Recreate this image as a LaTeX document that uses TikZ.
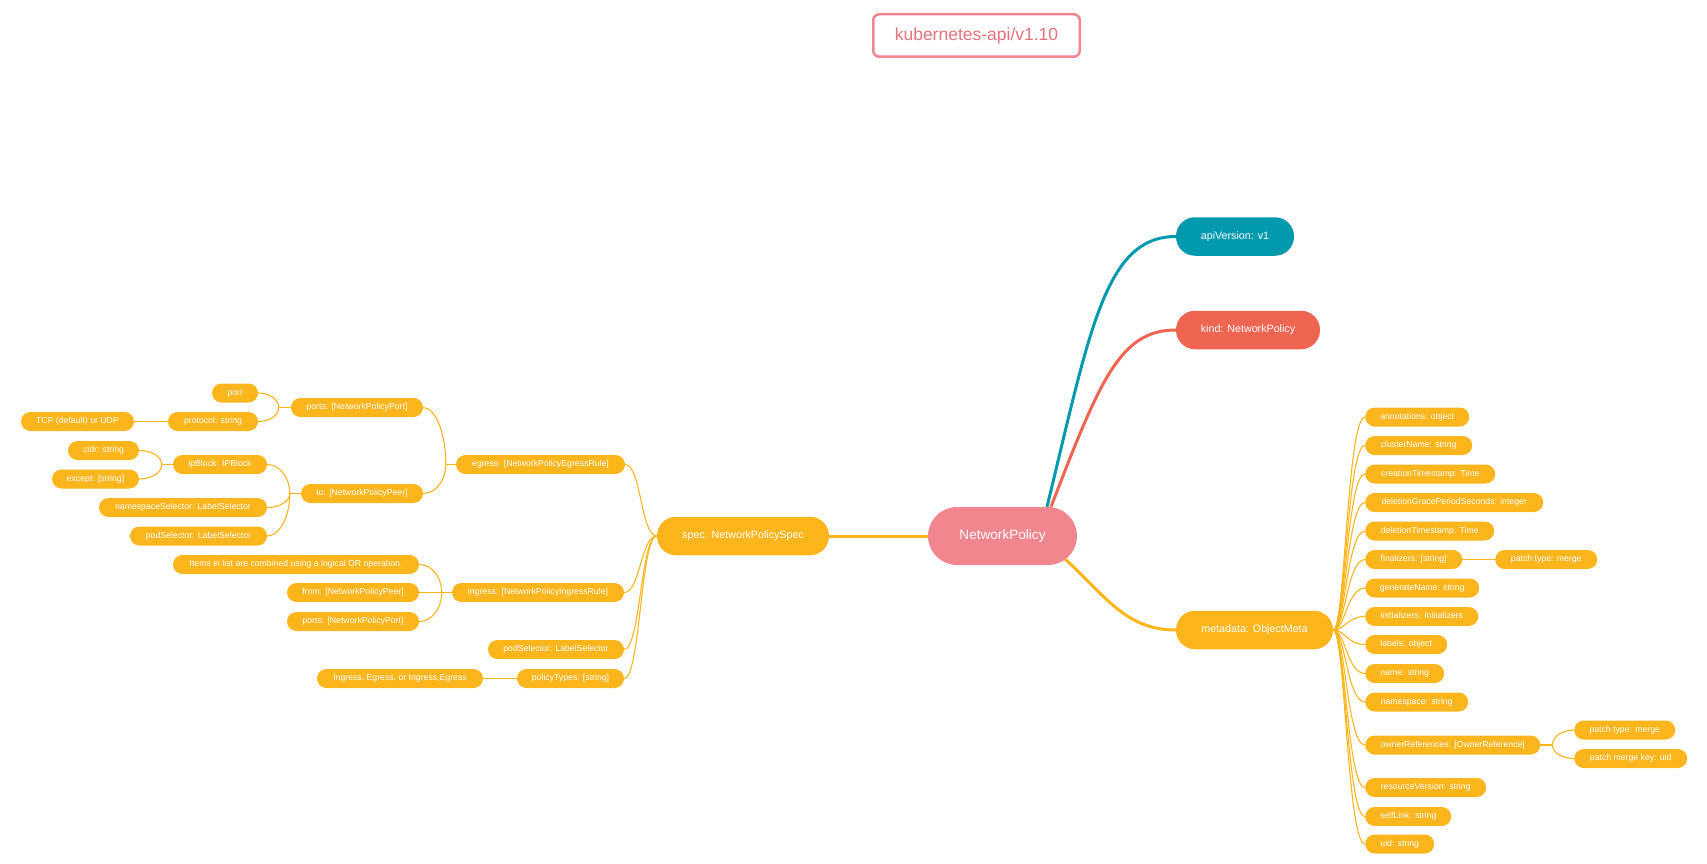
\documentclass[tikz,border=0pt]{standalone}
\usepackage{fontspec}
\setmainfont{Liberation Sans}
\usetikzlibrary{calc}
\definecolor{cOra}{HTML}{FDB51C}
\definecolor{cTeal}{HTML}{0099AD}
\definecolor{cRed}{HTML}{EF6551}
\definecolor{cPink}{HTML}{F2868F}
\definecolor{cPinkText}{HTML}{E2727C}
\tikzset{
  leaf/.style={fill=cOra, text=white, font=\fontsize{8.7}{10}\selectfont, rounded corners=9.5pt,
    minimum height=19pt, inner sep=0pt, text height=6.4pt, text depth=1.8pt},
  midnode/.style={text=white, font=\fontsize{10.7}{12}\selectfont, rounded corners=19pt,
    minimum height=38.5pt, inner sep=0pt, text height=7.8pt, text depth=2.3pt},
  rootnode/.style={fill=cPink, text=white, font=\fontsize{13.6}{15}\selectfont, rounded corners=29pt,
    minimum height=58pt, minimum width=149pt, inner sep=0pt, text height=10pt, text depth=2.9pt},
  titlenode/.style={draw=cPink, line width=2.5pt, text=cPinkText, font=\fontsize{17.5}{20}\selectfont,
    rounded corners=6pt, minimum width=206.5pt, minimum height=42.5pt, inner sep=0pt,
    text height=12.8pt, text depth=3.6pt},
  br/.style={draw=cOra, line width=1.1pt},
  rootline/.style={line width=3pt}
}
% left-side child -> junction: quarter-ellipse
\newcommand{\juncL}[2]{%
  \draw[br] (#1.east) .. controls ($(#1.east)!0.55!(#2 |- #1.east)$) and ($(#2)!0.55!(#2 |- #1.east)$) .. (#2);}
% junction -> right-side child
\newcommand{\juncR}[2]{%
  \draw[br] (#2) .. controls ($(#2)!0.55!(#2 |- #1.west)$) and ($(#1.west)!0.55!(#2 |- #1.west)$) .. (#1.west);}
\begin{document}
\begin{tikzpicture}[x=1pt,y=-1pt]
\useasboundingbox (0,0) rectangle (1707,864);

% title and main nodes
\node[titlenode] (title) at (976.5,35.5) {kubernetes-api/v1.10};
\node[rootnode] (np) at (1002.5,536) {NetworkPolicy};
\node[midnode, fill=cTeal, minimum width=118pt] (apiv) at (1235,236.5) {apiVersion: v1};
\node[midnode, fill=cRed, minimum width=144pt] (kind) at (1248,330) {kind: NetworkPolicy};
\node[midnode, fill=cOra, minimum width=157pt] (meta) at (1254.5,630) {metadata: ObjectMeta};
\node[midnode, fill=cOra, minimum width=172pt] (spec) at (743,536) {spec: NetworkPolicySpec};

% spec subtree
\node[leaf, minimum width=169pt] (egress) at (540.5,464.5) {egress: [NetworkPolicyEgressRule]};
\node[leaf, minimum width=132pt] (ports1) at (357,407.5) {ports: [NetworkPolicyPort]};
\node[leaf, minimum width=46pt] (port) at (235,393) {port};
\node[leaf, minimum width=90pt] (protocol) at (213,421.5) {protocol: string};
\node[leaf, minimum width=113pt] (tcp) at (77.5,421.5) {TCP (default) or UDP};
\node[leaf, minimum width=122pt] (to) at (362,493.5) {to: [NetworkPolicyPeer]};
\node[leaf, minimum width=94pt] (ipblock) at (220,464.5) {ipBlock: IPBlock};
\node[leaf, minimum width=71pt] (cidr) at (103.5,450.5) {cidr: string};
\node[leaf, minimum width=87pt] (except) at (95.5,479) {except: [string]};
\node[leaf, minimum width=168pt] (nssel) at (183,507.5) {namespaceSelector: LabelSelector};
\node[leaf, minimum width=137pt] (podsel1) at (198.5,536) {podSelector: LabelSelector};
\node[leaf, minimum width=172pt] (ingress) at (538,592.5) {ingress: [NetworkPolicyIngressRule]};
\node[leaf, minimum width=246pt] (items) at (296,564.5) {Items in list are combined using a logical OR operation.};
\node[leaf, minimum width=132pt] (from) at (353,592.5) {from: [NetworkPolicyPeer]};
\node[leaf, minimum width=132pt] (ports2) at (353,621.5) {ports: [NetworkPolicyPort]};
\node[leaf, minimum width=136pt] (podsel2) at (556,649.5) {podSelector: LabelSelector};
\node[leaf, minimum width=107pt] (ptypes) at (570.5,678.5) {policyTypes: [string]};
\node[leaf, minimum width=166pt] (ingeg) at (400,678.5) {Ingress, Egress, or Ingress,Egress};

% metadata subtree
\node[leaf, anchor=west, minimum width=104pt] (ann) at (1365,417) {annotations: object};
\node[leaf, anchor=west, minimum width=107pt] (cluster) at (1365,445.5) {clusterName: string};
\node[leaf, anchor=west, minimum width=130pt] (creation) at (1365,474) {creationTimestamp: Time};
\node[leaf, anchor=west, minimum width=178pt] (dgps) at (1365,502.5) {deletionGracePeriodSeconds: integer};
\node[leaf, anchor=west, minimum width=129pt] (dts) at (1365,531) {deletionTimestamp: Time};
\node[leaf, anchor=west, minimum width=97pt] (fin) at (1365,559.5) {finalizers: [string]};
\node[leaf, anchor=west, minimum width=102pt] (ptm1) at (1495,559.5) {patch type: merge};
\node[leaf, anchor=west, minimum width=114pt] (gen) at (1365,588) {generateName: string};
\node[leaf, anchor=west, minimum width=113pt] (init) at (1365,616.5) {initializers: Initializers};
\node[leaf, anchor=west, minimum width=82pt] (labels) at (1365,644.5) {labels: object};
\node[leaf, anchor=west, minimum width=79pt] (name) at (1365,673.5) {name: string};
\node[leaf, anchor=west, minimum width=103pt] (nsp) at (1365,702) {namespace: string};
\node[leaf, anchor=west, minimum width=175pt] (owner) at (1365,745) {ownerReferences: [OwnerReference]};
\node[leaf, anchor=west, minimum width=101pt] (ptm2) at (1574,730) {patch type: merge};
\node[leaf, anchor=west, minimum width=113pt] (pmk) at (1574,758.5) {patch merge key: uid};
\node[leaf, anchor=west, minimum width=121pt] (rv) at (1365,787.5) {resourceVersion: string};
\node[leaf, anchor=west, minimum width=86pt] (self) at (1365,816.5) {selfLink: string};
\node[leaf, anchor=west, minimum width=69pt] (uid) at (1365,844) {uid: string};

% root connectors
\coordinate (npA) at ([xshift=44.5pt]np.north);
\coordinate (npK) at ([xshift=48.5pt]np.north);
\coordinate (npM) at (1065,559);
\draw[rootline, cTeal] (npA) .. controls (1090,330) and (1105,236.5) .. (apiv.west);
\draw[rootline, cRed] (npK) .. controls (1100,380) and (1120,330) .. (kind.west);
\draw[rootline, cOra] (npM) .. controls (1105,595) and (1125,630) .. (meta.west);
\draw[rootline, cOra] (spec.east) -- (np.west);

% spec children
\foreach \c in {egress, ingress, podsel2, ptypes}
  \draw[br] (\c.east) .. controls ([xshift=16pt]\c.east) and ([xshift=-16pt]spec.west) .. (spec.west);

% egress
\coordinate (jE) at ([xshift=-10pt]egress.west);
\draw[br] (jE) -- (egress.west);
\foreach \c in {ports1, to} {\juncL{\c}{jE}}

% ports1
\coordinate (jP) at ([xshift=-12pt]ports1.west);
\draw[br] (jP) -- (ports1.west);
\foreach \c in {port, protocol} {\juncL{\c}{jP}}
\draw[br] (tcp.east) -- (protocol.west);

% to
\coordinate (jT) at ([xshift=-11pt]to.west);
\draw[br] (jT) -- (to.west);
\foreach \c in {ipblock, nssel, podsel1} {\juncL{\c}{jT}}

% ipblock
\coordinate (jI) at ([xshift=-11pt]ipblock.west);
\draw[br] (jI) -- (ipblock.west);
\foreach \c in {cidr, except} {\juncL{\c}{jI}}

% ingress
\coordinate (jG) at ([xshift=-10pt]ingress.west);
\draw[br] (jG) -- (ingress.west);
\foreach \c in {items, ports2} {\juncL{\c}{jG}}
\draw[br] (from.east) -- (jG);

\draw[br] (ingeg.east) -- (ptypes.west);

% metadata children
\foreach \c in {ann, cluster, creation, dgps, dts, fin, gen, init, labels, name, nsp, owner, rv, self, uid}
  \draw[br] (meta.east) .. controls ([xshift=12pt]meta.east) and ([xshift=-18pt]\c.west) .. (\c.west);

\draw[br] (fin.east) -- (ptm1.west);

\coordinate (jO) at ([xshift=12pt]owner.east);
\draw[br] (owner.east) -- (jO);
\foreach \c in {ptm2, pmk} {\juncR{\c}{jO}}

\end{tikzpicture}
\end{document}
